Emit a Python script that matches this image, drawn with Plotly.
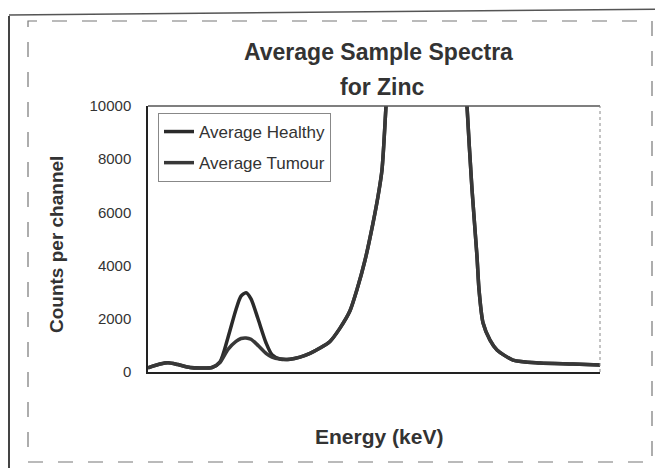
import plotly.graph_objects as go

# Channel index (no energy tick labels are shown on the original)
channel = [0, 12, 20, 30, 42, 52, 64, 72, 80, 88, 93, 98, 103, 110, 118, 124, 132, 142,
           152, 162, 172, 182, 192, 202, 209, 217, 225, 230, 234, 238, 244, 262, 278,
           297, 314, 319, 324, 329, 331, 335, 342, 349, 365, 392, 425, 452]
healthy = [160, 300, 350, 280, 170, 150, 170, 380, 1300, 2350, 2850, 2980, 2750, 2000,
           1100, 650, 490, 480, 560, 700, 900, 1150, 1650, 2300, 3100, 4200, 5600, 6600,
           7600, 10000, 14000, 30000, 40000, 30000, 14000, 10000, 6870, 4340, 3100,
           1850, 1200, 830, 450, 340, 300, 260]
tumour = [160, 300, 350, 280, 170, 150, 170, 360, 850, 1150, 1260, 1280, 1230, 1000,
          700, 560, 490, 480, 560, 700, 900, 1150, 1650, 2300, 3100, 4200, 5600, 6600,
          7600, 10000, 14000, 30000, 40000, 30000, 14000, 10000, 6870, 4340, 3100,
          1850, 1200, 830, 450, 340, 300, 260]
yticks = [0, 2000, 4000, 6000, 8000, 10000]

W, H = 663, 468
L, R, T, B = 140, 71, 98, 104
PW, PH = W - L - R, H - T - B


def px(x):
    return (x - L) / PW


def py(y):
    return (H - B - y) / PH


FONT = "Liberation Sans, Arial, sans-serif"
INK = "#333333"

fig = go.Figure()
fig.add_trace(go.Scatter(x=channel, y=healthy, mode="lines", name="Average Healthy",
                         legendgroup="h",
                         line=dict(color="#2a2a2a", width=3.5, shape="spline", smoothing=0.7)))
fig.add_trace(go.Scatter(x=channel, y=tumour, mode="lines", name="Average Tumour",
                         legendgroup="t",
                         line=dict(color="#383838", width=3.5, shape="spline", smoothing=0.7)))

fig.update_layout(
    width=W, height=H,
    margin=dict(l=L, r=R, t=T, b=B),
    paper_bgcolor="white", plot_bgcolor="white",
    font=dict(family=FONT, color=INK),
    showlegend=True,
    legend=dict(x=px(150), y=py(105), xanchor="left", yanchor="top",
                bgcolor="white", bordercolor="#888", borderwidth=1,
                font=dict(size=17, color=INK), tracegroupgap=6),
    xaxis=dict(range=[0, 452], showticklabels=False, ticks="", showgrid=False,
               zeroline=False, showline=True, linecolor="#222", linewidth=1.5),
    yaxis=dict(range=[0, 10000], tickvals=yticks, tickformat="d",
               showgrid=False, zeroline=False, showline=True, linecolor="#222",
               linewidth=1.5, ticks="", ticklabelstandoff=12,
               tickfont=dict(size=15, color=INK)),
    annotations=[
        dict(text="<b>Average Sample Spectra</b>", xref="paper", yref="paper",
             x=px(370), y=py(44), xanchor="center", yanchor="middle", showarrow=False,
             font=dict(size=23, color=INK, family=FONT)),
        dict(text="<b>for Zinc</b>", xref="paper", yref="paper",
             x=px(374), y=py(79), xanchor="center", yanchor="middle", showarrow=False,
             font=dict(size=23, color=INK, family=FONT)),
        dict(text="<b>Energy (keV)</b>", xref="paper", yref="paper",
             x=px(371), y=py(428), xanchor="center", yanchor="middle", showarrow=False,
             font=dict(size=21, color=INK, family=FONT)),
        dict(text="<b>Counts per channel</b>", xref="paper", yref="paper",
             x=px(49), y=py(237), xanchor="center", yanchor="middle", showarrow=False,
             textangle=-90, font=dict(size=19, color=INK, family=FONT)),
    ],
    shapes=[
        # plot-area frame (top/right)
        dict(type="line", xref="paper", yref="paper", x0=0, x1=1, y0=1, y1=1,
             line=dict(color="#555", width=1.5)),
        dict(type="line", xref="paper", yref="paper", x0=1, x1=1, y0=0, y1=1,
             line=dict(color="#888", width=1, dash="dot")),
        # inner dashed chart frame
        dict(type="rect", xref="paper", yref="paper",
             x0=px(20), x1=px(644), y0=py(454), y1=py(13),
             line=dict(color="#777", width=1.2, dash="longdash")),
        # outer solid edges of the scanned page
        dict(type="line", xref="paper", yref="paper", x0=px(1), x1=px(1),
             y0=py(8), y1=py(468), line=dict(color="#444", width=2)),
        dict(type="line", xref="paper", yref="paper", x0=px(1), x1=px(663),
             y0=py(7), y1=py(1), line=dict(color="#555", width=1.5)),
    ],
)

fig.write_html("out.html")
